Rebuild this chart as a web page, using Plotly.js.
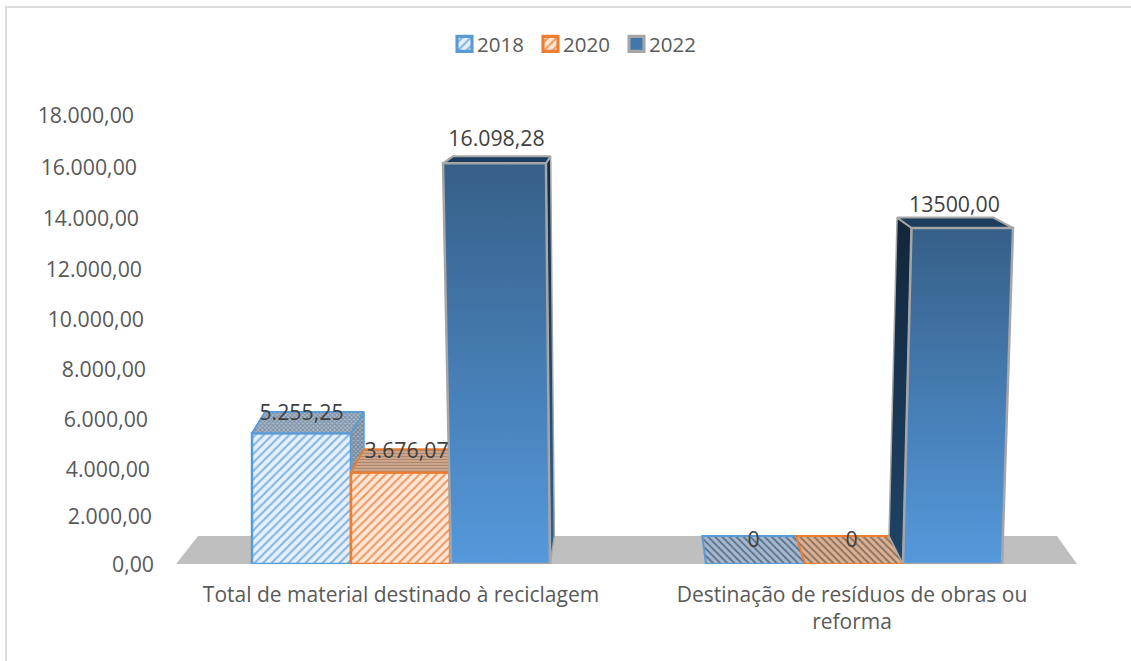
<!DOCTYPE html>
<html><head><meta charset="utf-8">
<script src="https://cdn.plot.ly/plotly-3.0.1.min.js"></script>
<style>html,body{margin:0;padding:0;background:#fff;overflow:hidden}
#frame{position:absolute;left:5px;top:6px;width:1126px;height:655px;border-left:2px solid #dcdcdc;border-top:2px solid #dcdcdc;box-sizing:border-box;pointer-events:none;z-index:5}
#gd{position:absolute;left:0;top:0;width:1131px;height:661px}</style>
</head><body><div id="gd"></div><div id="frame"></div>
<script>
const categories = ["Total de material destinado à reciclagem", "Destinação de resíduos de obras ou<br>reforma"];
const seriesNames = ["2018", "2020", "2022"];
const values2018 = [5255.25, 0];
const values2020 = [3676.07, 0];
const values2022 = [16098.28, 13500];
const labels2018 = ["5.255,25", "0"];
const labels2020 = ["3.676,07", "0"];
const labels2022 = ["16.098,28", "13500,00"];
const yTicks = [0, 2000, 4000, 6000, 8000, 10000, 12000, 14000, 16000, 18000];
const yTickText = ["0,00", "2.000,00", "4.000,00", "6.000,00", "8.000,00", "10.000,00", "12.000,00", "14.000,00", "16.000,00", "18.000,00"];

// layout geometry (pixels) and the helpers turning pixel offsets into axis units
const W = 1131, H = 661, L = 167, R = 1087, T = 116, B = 564.5;
const PXU = 451, X0 = 401;
const YMAX = 18000, PYV = (B - T) / YMAX;
const xu = px => (px - X0) / PXU;
const dv = px => px / PYV;
const barW = 99;
const barLeft = [[252, 351, 451], [706, 805, 903]];
const TILT1 = {c: 650, k: 0.0337}, TILT2 = {c: 568, k: 0.0254};
function frontX(x0, v, t) { return t ? x0 + (x0 - t.c) * t.k * v / 13500 : x0; }
function depthDy(v) { return 28 - 21 * v / 16098; }
function backX(x) { return x + Math.min((634 - x) * 0.052, 13); }
function backV(v) { return v + dv(depthDy(v)); }
function poly(pts, o) {
  return Object.assign({type: 'scatter', mode: 'lines', fill: 'toself', showlegend: false, hoverinfo: 'skip',
    x: pts.map(p => xu(p[0])).concat([xu(pts[0][0])]), y: pts.map(p => p[1]).concat([pts[0][1]])}, o);
}
const BL = '#5b9bd5', OR = '#ed7d31', GR = '#a6a6a6';
function topFace(x0, v, t, o) {
  const a = frontX(x0, v, t), b = frontX(x0 + barW, v, t);
  return poly([[a, v], [b, v], [backX(b), backV(v)], [backX(a), backV(v)]], o);
}
function pat(shape, size, fg, bg, sol) { return {shape: shape, size: size, solidity: sol, fgcolor: fg, bgcolor: bg, fillmode: 'replace'}; }

const traces = [];
[[values2018, BL, '#e6f0fa', '#86b5e0'], [values2020, OR, '#fce8da', '#f19a60'], [values2022, GR, '#3f78ad', null]].forEach((s, i) => {
  traces.push({
    type: 'bar', name: seriesNames[i], x: [0, 1], y: s[0], width: barW / PXU,
    offset: [xu(barLeft[0][i]) - 0, xu(barLeft[1][i]) - 1],
    marker: {
      color: s[2], line: {color: s[1], width: 2.5},
      pattern: i < 2 ? {shape: '/', size: 6, solidity: 0.36, fgcolor: s[3], bgcolor: s[2], fillmode: 'replace'} : undefined
    },
    hoverinfo: 'skip'
  });
});

// group 1 faces
const v18 = values2018[0], v20 = values2020[0], v22 = values2022[0];
const x18 = barLeft[0][0], x20 = barLeft[0][1], x22 = barLeft[0][2];
traces.push(topFace(x18, v18, null, {line: {color: BL, width: 2}, fillpattern: pat('x', 3, '#7d8b9b', '#a7bbd2', 0.5)}));
traces.push(poly([[x18 + barW, v18], [backX(x18 + barW), backV(v18)], [backX(x18 + barW), backV(v20)], [x18 + barW, v20]],
  {line: {color: BL, width: 1.5}, fillpattern: pat('x', 3, '#6f7d8d', '#9db3cb', 0.5)}));
traces.push(topFace(x20, v20, null, {line: {color: OR, width: 2}, fillpattern: pat('-', 3, '#a98a76', '#dcae8f', 0.5)}));
{
  const r0 = x22 + barW, rT = frontX(r0, v22, TILT1), lT = frontX(x22, v22, TILT1);
  traces.push(poly([[r0, 0], [rT, v22], [backX(rT), backV(v22)], [backX(r0), backV(0)]], {
    line: {color: GR, width: 1.5},
    fillgradient: {type: 'vertical', colorscale: [[0, '#2f6499'], [1, '#13293f']]}
  }));
  traces.push(topFace(x22, v22, TILT1, {line: {color: GR, width: 2}, fillcolor: '#1c3d5e'}));
  traces.push(poly([[x22, 0], [r0, 0], [rT, v22], [lT, v22]], {
    line: {color: GR, width: 2.5},
    fillgradient: {type: 'vertical', colorscale: [[0, '#5599dc'], [1, '#365f88']]}
  }));
}
// group 2 faces
const w18 = values2018[1], w20 = values2020[1], w22 = values2022[1];
const z18 = barLeft[1][0], z20 = barLeft[1][1], z22 = barLeft[1][2];
traces.push(topFace(z18, w18, null, {line: {color: BL, width: 2}, fillpattern: pat('\\', 5, '#5f6f82', '#a3b9d2', 0.35)}));
traces.push(topFace(z20, w20, null, {line: {color: OR, width: 2}, fillpattern: pat('\\', 5, '#86705f', '#dcb092', 0.35)}));
{
  const lT = frontX(z22, w22, TILT2), rT = frontX(z22 + barW, w22, TILT2), r0 = z22 + barW;
  traces.push(poly([[z22, 0], [lT, w22], [backX(lT), backV(w22)], [backX(z22), backV(0)]], {
    line: {color: GR, width: 1.5},
    fillgradient: {type: 'vertical', colorscale: [[0, '#1f4468'], [1, '#12263b']]}
  }));
  traces.push(topFace(z22, w22, TILT2, {line: {color: GR, width: 2}, fillcolor: '#1c3d5e'}));
  traces.push(poly([[z22, 0], [r0, 0], [rT, w22], [lT, w22]], {
    line: {color: GR, width: 2.5},
    fillgradient: {type: 'vertical', colorscale: [[0, '#5599dc'], [1, '#365f88']]}
  }));
}
// data labels
const labelNudgeX = [[0, 6, -4], [-2, -3, 2]];
const labelLiftPx = [[19, 20, 23], [22, 22, 21]];
const allV = [values2018, values2020, values2022], allL = [labels2018, labels2020, labels2022];
const lx = [], ly = [], lt = [];
[0, 1].forEach(g => [0, 1, 2].forEach(s => {
  lx.push(xu(barLeft[g][s] + barW / 2 + labelNudgeX[g][s]));
  ly.push(allV[s][g] + dv(labelLiftPx[g][s]));
  lt.push(allL[s][g]);
}));
traces.push({type: 'scatter', mode: 'text', x: lx, y: ly, text: lt, textposition: 'middle center',
  textfont: {family: '"Open Sans", sans-serif', size: 21.3, color: '#404040'}, showlegend: false, hoverinfo: 'skip'});

const floorTop = backV(0);
const layout = {
  width: W, height: H, paper_bgcolor: '#fff', plot_bgcolor: 'rgba(0,0,0,0)',
  margin: {l: L, r: W - R, t: T, b: H - B, pad: 0},
  font: {family: '"Open Sans", sans-serif', color: '#595959', size: 21},
  barmode: 'overlay', hovermode: false, dragmode: false,
  xaxis: {type: 'linear', range: [xu(L), xu(R)], tickmode: 'array', tickvals: [0, 1], ticktext: categories,
    showgrid: false, zeroline: false, showline: false, ticks: '', tickfont: {size: 21, color: '#595959'}, ticklabelstandoff: 16, fixedrange: true},
  yaxis: {range: [0, YMAX], tickmode: 'array', tickvals: yTicks, ticktext: yTickText,
    showgrid: false, zeroline: false, showline: false, ticks: '', tickfont: {size: 21.3, color: '#595959'}, fixedrange: true},
  legend: {orientation: 'h', x: (576 - L) / (R - L), xanchor: 'center', y: (B - 44) / (B - T), yanchor: 'middle',
    font: {size: 20.5, color: '#595959'}, traceorder: 'normal', bgcolor: 'rgba(0,0,0,0)', itemwidth: 30},
  shapes: [{type: 'path', xref: 'x', yref: 'y', layer: 'below', line: {width: 0}, fillcolor: '#bfbfbf',
    path: `M${xu(176)},0 L${xu(198)},${floorTop} L${xu(1057)},${floorTop} L${xu(1077)},0 Z`}]
};
// the source chart's value axis leans with its 3D perspective: per-tick pixel nudges
const tickNudgeX = [-12, -14, -16, -18, -20, -22, -24, -27, -29, -32];
const tickNudgeY = [0.5, 2, 5, 5, 5, 4, 4, 3, 2, 0];
const legendTextLeft = [477, 563, 649];
Plotly.newPlot('gd', traces, layout, {displayModeBar: false, staticPlot: true}).then(gd => {
  gd.querySelectorAll('.ytick').forEach((g, i) => {
    g.setAttribute('transform', `translate(${tickNudgeX[i]},${tickNudgeY[i]})`);
  });
  gd.querySelectorAll('.legend .traces').forEach((g, i) => {
    const text = g.querySelector('.legendtext');
    const left = text.getBoundingClientRect().left;
    const m = /translate\(([-\d.]+),\s*([-\d.]+)\)/.exec(g.getAttribute('transform') || 'translate(0,0)');
    g.setAttribute('transform', `translate(${+m[1] + legendTextLeft[i] - left},${m[2]})`);
    const path = g.querySelector('.legendpoints path');
    if (path) path.setAttribute('transform', `translate(${+text.getAttribute('x') - 12.5},0) scale(1.25)`);
  });
});
</script></body></html>
